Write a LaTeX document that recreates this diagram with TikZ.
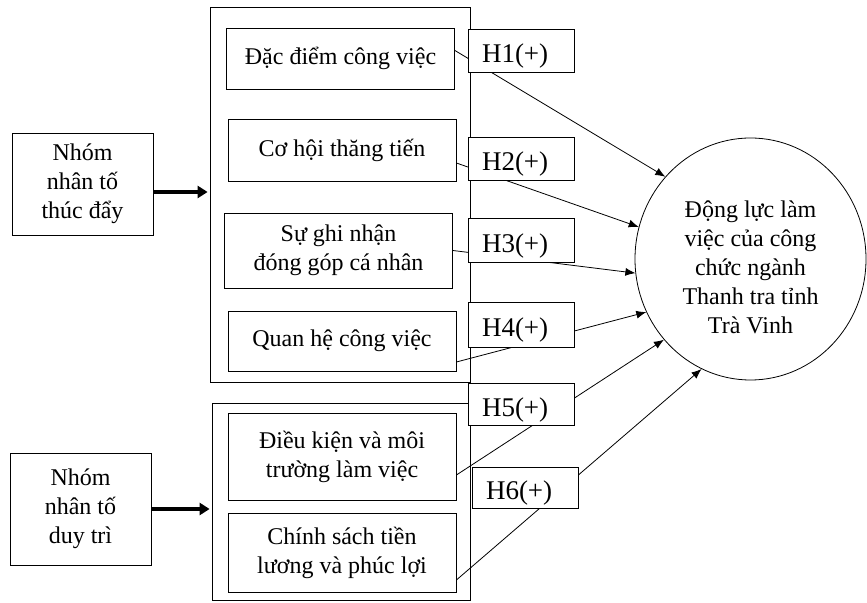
\documentclass[tikz,border=0pt]{standalone}
\usepackage{fontspec}
\setmainfont{Liberation Serif}
\usetikzlibrary{shapes.geometric,arrows.meta}
\begin{document}
\begin{tikzpicture}[x=0.5pt, y=-0.5pt, >={Latex[length=5pt,width=4pt]},
    every node/.style={font=\fontsize{12}{14.5}\selectfont, align=center, inner sep=0pt},
    hop/.style={draw, minimum width=114pt},
    gt/.style={draw, fill=white, font=\fontsize{13.5}{16}\selectfont, align=left,
        text width=39pt, text height=12.5pt, text depth=0pt, inner xsep=7pt, minimum height=21.5pt}]
    \useasboundingbox (0,0) rectangle (867,603);
    % Nhóm nhân tố (bên trái)
    \node[draw, minimum width=70.5pt, minimum height=51pt] (nt1) at (82.5,184) {Nhóm\\nhân tố\\thúc đẩy};
    \node[draw, minimum width=70.5pt, minimum height=56pt] (nt2) at (80.5,509) {Nhóm\\nhân tố\\duy trì};
    
    % Khung lớn
    \node[draw, minimum width=130pt, minimum height=187.5pt] (k1) at (340,194.5) {};
    \node[draw, minimum width=129pt, minimum height=98.5pt] (k2) at (341,501.5) {};
    
    % Các nhân tố
    \node[hop, minimum height=30.5pt] (b1) at (340.5,58.5) {Đặc điểm công việc};
    \node[hop, minimum height=31pt] (b2) at (342,150) {Cơ hội thăng tiến};
    \node[hop, minimum height=37.5pt] (b3) at (338.5,250.5) {Sự ghi nhận\\đóng góp cá nhân};
    \node[hop, minimum height=30pt] (b4) at (342,341) {Quan hệ công việc};
    \node[hop, minimum height=43.5pt] (b5) at (342,456.5) {Điều kiện và môi\\trường làm việc};
    \node[hop, minimum height=39.5pt] (b6) at (342,552.5) {Chính sách tiền\\lương và phúc lợi};
    
    % Biến phụ thuộc
    \node[ellipse, draw, minimum width=115.5pt, minimum height=121pt] (dl) at (750.5,259) {\rule{0pt}{17pt}Động lực làm\\việc của công\\chức ngành\\Thanh tra tỉnh\\Trà Vinh};
    
    % Mũi tên từ nhóm vào khung
    \draw[-{Triangle[length=5pt,width=6pt]}, line width=1.8pt, shorten >=1pt] ([yshift=-4pt]nt1.east) -- ([yshift=-4pt]nt1.east -| k1.west);
    \draw[-{Triangle[length=5pt,width=6pt]}, line width=1.8pt, shorten >=1pt] (nt2.east) -- (nt2.east -| k2.west);
    
    % Mũi tên đến động lực
    \draw[->] ([yshift=4pt]b1.east) -- (dl.136);
    \draw[->] ([yshift=-6.5pt]b2.east) -- (dl.164.6);
    \draw[->] (b3.east) -- (dl.187.9);
    \draw[->] ([yshift=-10.5pt]b4.east) -- (dl.207.1);
    \draw[->] ([yshift=-9.25pt]b5.east) -- (dl.223.5);
    \draw[->] ([yshift=-13.75pt]b6.east) -- (dl.246.5);
    
    % Giả thuyết
    \node[gt] (h1) at (521,50.5) {H1(+)};
    \node[gt] (h2) at (521,158.5) {H2(+)};
    \node[gt, minimum height=22pt] (h3) at (521,240) {H3(+)};
    \node[gt, minimum height=22.5pt] (h4) at (521,324.5) {H4(+)};
    \node[gt, minimum height=21pt] (h5) at (521,404) {H5(+)};
    \node[gt, minimum height=20.5pt] (h6) at (525,487.5) {H6(+)};
\end{tikzpicture}
\end{document}
